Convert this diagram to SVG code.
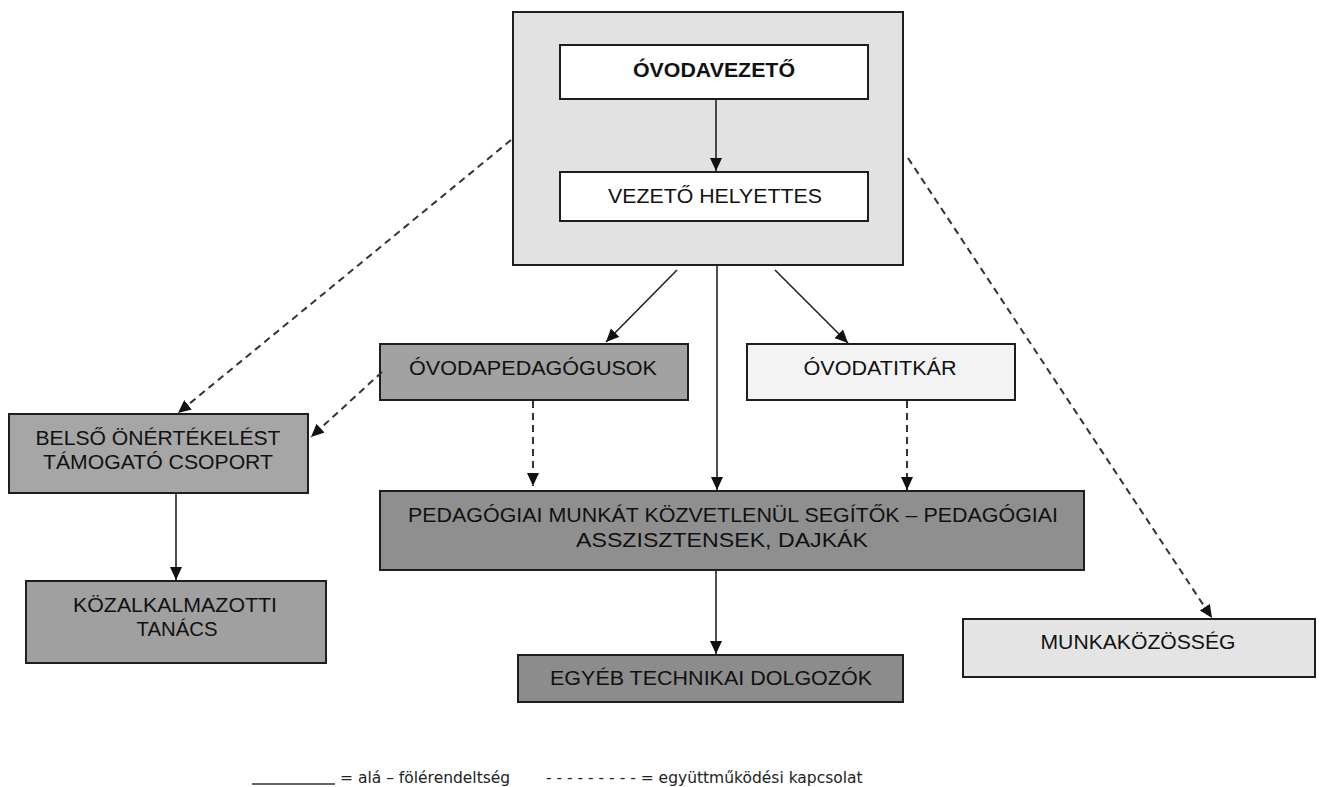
<svg xmlns="http://www.w3.org/2000/svg" width="1323" height="787" viewBox="0 0 1323 787">
<style>
.box{stroke:#1e1e1e;stroke-width:2}
.t{font-family:"Liberation Sans Narrow","Liberation Sans",Arial,sans-serif;font-size:20px;fill:#111;text-anchor:middle}
.b{font-weight:bold}
.solid{stroke:#222;stroke-width:1.6;fill:none}
.dash{stroke:#333;stroke-width:2;fill:none;stroke-dasharray:7 5}
.leg{font-family:"DejaVu Sans",Verdana,sans-serif;font-size:15.5px;fill:#222}
</style>
<defs>
<marker id="ah" markerUnits="userSpaceOnUse" markerWidth="14" markerHeight="12" refX="13" refY="6" orient="auto">
<path d="M0,0 L13,6 L0,12 Z" fill="#111"/>
</marker>
</defs>
<rect width="1323" height="787" fill="#fff"/>
<g id="vezetes">
<rect class="box" x="513" y="12" width="390" height="253" fill="#e2e2e2"/>
</g>
<g id="ovodavezeto">
<rect class="box" x="560" y="45" width="308" height="54" fill="#fff"/>
<text class="t b" x="714" y="77" textLength="162" lengthAdjust="spacingAndGlyphs">ÓVODAVEZETŐ</text>
</g>
<g id="helyettes">
<rect class="box" x="560" y="172" width="308" height="49" fill="#fff"/>
<text class="t" x="715" y="203" textLength="214" lengthAdjust="spacingAndGlyphs">VEZETŐ HELYETTES</text>
</g>
<g id="pedagogusok">
<rect class="box" x="380" y="344" width="308" height="56" fill="#a2a2a2"/>
<text class="t" x="533" y="375" textLength="248" lengthAdjust="spacingAndGlyphs">ÓVODAPEDAGÓGUSOK</text>
</g>
<g id="titkar">
<rect class="box" x="747" y="344" width="268" height="56" fill="#f3f3f3"/>
<text class="t" x="880" y="375" textLength="153" lengthAdjust="spacingAndGlyphs">ÓVODATITKÁR</text>
</g>
<g id="belso">
<rect class="box" x="9" y="414" width="299" height="79" fill="#a6a6a6"/>
<text class="t" x="158" y="445" textLength="245" lengthAdjust="spacingAndGlyphs">BELSŐ ÖNÉRTÉKELÉST</text>
<text class="t" x="158" y="469" textLength="230" lengthAdjust="spacingAndGlyphs">TÁMOGATÓ CSOPORT</text>
</g>
<g id="kozalkalmazotti">
<rect class="box" x="26" y="581" width="300" height="82" fill="#a0a0a0"/>
<text class="t" x="175" y="612" textLength="204" lengthAdjust="spacingAndGlyphs">KÖZALKALMAZOTTI</text>
<text class="t" x="177" y="636" textLength="81" lengthAdjust="spacingAndGlyphs">TANÁCS</text>
</g>
<g id="segitok">
<rect class="box" x="380" y="491" width="704" height="79" fill="#8f8f8f"/>
<text class="t" x="733" y="522" textLength="650" lengthAdjust="spacingAndGlyphs">PEDAGÓGIAI MUNKÁT KÖZVETLENÜL SEGÍTŐK – PEDAGÓGIAI</text>
<text class="t" x="722" y="547" textLength="292" lengthAdjust="spacingAndGlyphs">ASSZISZTENSEK, DAJKÁK</text>
</g>
<g id="egyeb">
<rect class="box" x="518" y="655" width="385" height="47" fill="#8c8c8c"/>
<text class="t" x="711" y="685" textLength="322" lengthAdjust="spacingAndGlyphs">EGYÉB TECHNIKAI DOLGOZÓK</text>
</g>
<g id="munkakozosseg">
<rect class="box" x="963" y="619" width="352" height="58" fill="#e4e4e4"/>
<text class="t" x="1138" y="649" textLength="195" lengthAdjust="spacingAndGlyphs">MUNKAKÖZÖSSÉG</text>
</g>
<g id="connectors">
<line class="solid" x1="716" y1="99" x2="716" y2="171" marker-end="url(#ah)"/>
<line class="solid" x1="677" y1="270" x2="606" y2="342" marker-end="url(#ah)"/>
<line class="solid" x1="717" y1="265" x2="717" y2="490" marker-end="url(#ah)"/>
<line class="solid" x1="775" y1="270" x2="848" y2="343" marker-end="url(#ah)"/>
<line class="solid" x1="176" y1="493" x2="176" y2="580" marker-end="url(#ah)"/>
<line class="solid" x1="716" y1="570" x2="716" y2="654" marker-end="url(#ah)"/>
<line class="dash" x1="511" y1="140" x2="178" y2="413" marker-end="url(#ah)"/>
<line class="dash" x1="382" y1="372" x2="311" y2="437" marker-end="url(#ah)"/>
<line class="dash" x1="533" y1="401" x2="533" y2="486" marker-end="url(#ah)"/>
<line class="dash" x1="907" y1="401" x2="907" y2="490" marker-end="url(#ah)"/>
<line class="dash" x1="908" y1="158" x2="1212" y2="618" marker-end="url(#ah)"/>
</g>
<g id="legend">
<line x1="252" y1="784" x2="335" y2="784" stroke="#333" stroke-width="1.5"/>
<text class="leg" x="340" y="783">= alá – fölérendeltség</text>
<text class="leg" x="546" y="783">- - - - - - - - - = együttműködési kapcsolat</text>
</g>
</svg>
